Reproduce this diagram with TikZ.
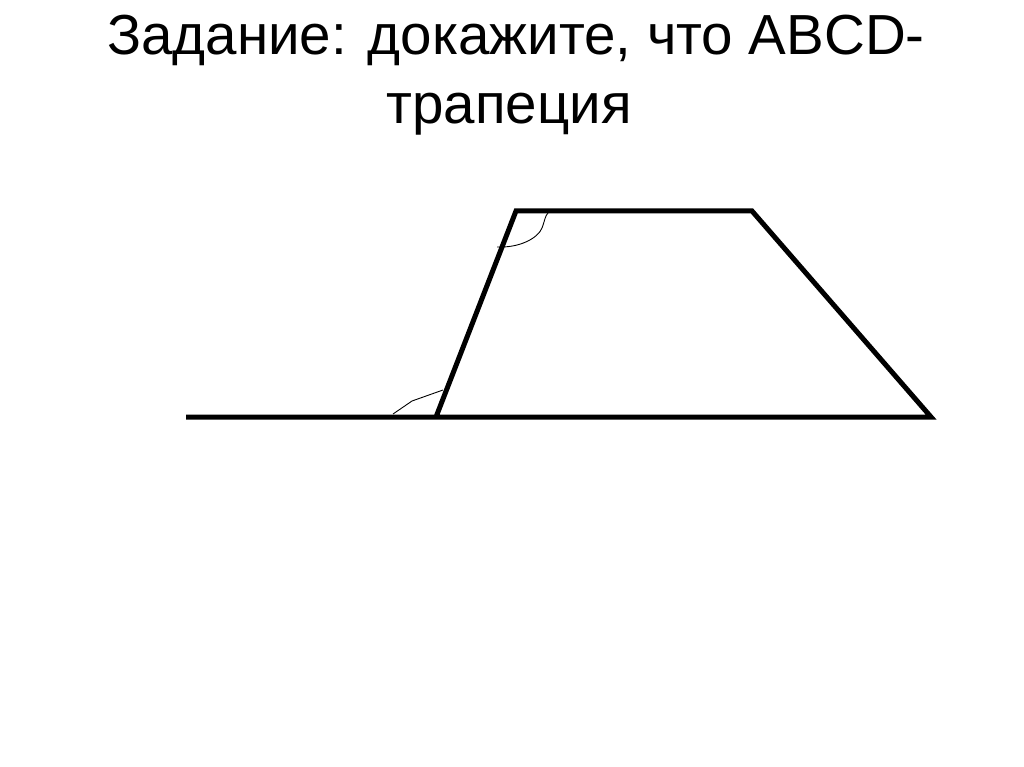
\documentclass[tikz,border=0pt]{standalone}
\usepackage{fontspec}
\setmainfont{Liberation Sans}
\begin{document}
\begin{tikzpicture}[x=1pt,y=-1pt,
  titletext/.style={font=\fontsize{56.5}{66}\selectfont,inner sep=0pt,anchor=base},
  side/.style={line width=5pt,line cap=butt,line join=miter},
  anglemark/.style={line width=0.9pt}]
\useasboundingbox[fill=white] (0,0) rectangle (1024,767);
\node[titletext] (t1) at (516,55) {Задание: докажите, что ABCD-};
\node[titletext] (t2) at (509,124) {трапеция};
\coordinate (E) at (186,417);
\coordinate (A) at (436,417);
\coordinate (B) at (516,211);
\coordinate (C) at (752,211);
\coordinate (D) at (931,417);
\draw[side] (E) -- (D) -- (C) -- (B) -- (A);
\coordinate (a1) at (393,414);
\coordinate (a2) at (443,390);
\draw[anglemark] (a1) -- (412,401) -- (a2);
\coordinate (b1) at (497,247);
\coordinate (b2) at (548,213);
\draw[anglemark] (b1) .. controls (520,248) and (538,238) .. (542,228) .. controls (545,220) and (545,216) .. (b2);
\end{tikzpicture}
\end{document}
